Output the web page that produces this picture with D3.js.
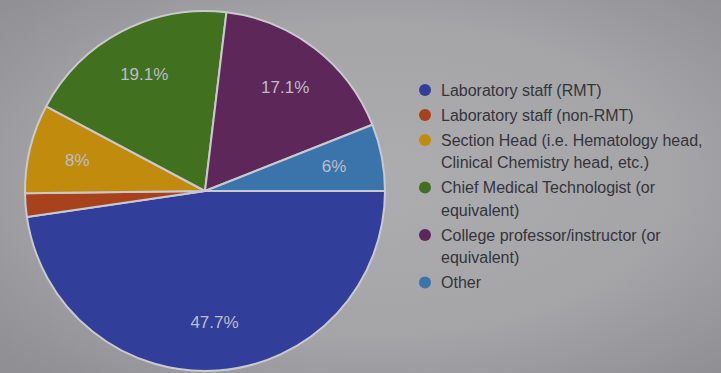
<!DOCTYPE html>
<html>
<head>
<meta charset="utf-8">
<script src="https://cdn.jsdelivr.net/npm/d3@7/dist/d3.min.js"></script>
<style>
  html, body { margin: 0; padding: 0; background: #a0a0a3; }
  svg { display: block; }
</style>
</head>
<body>
<svg id="chart" width="721" height="373"></svg>
<script>
// Survey responses: current position of respondents
const categories = [
  "Laboratory staff (RMT)",
  "Laboratory staff (non-RMT)",
  "Section Head (i.e. Hematology head, Clinical Chemistry head, etc.)",
  "Chief Medical Technologist (or equivalent)",
  "College professor/instructor (or equivalent)",
  "Other"
];
const legendLines = [
  ["Laboratory staff (RMT)"],
  ["Laboratory staff (non-RMT)"],
  ["Section Head (i.e. Hematology head,", "Clinical Chemistry head, etc.)"],
  ["Chief Medical Technologist (or", "equivalent)"],
  ["College professor/instructor (or", "equivalent)"],
  ["Other"]
];
const shares = [47.7, 2.1, 8, 19.1, 17.1, 6];
const sliceLabels = ["47.7%", "", "8%", "19.1%", "17.1%", "6%"];
const colors = ["#313f9a", "#a8421c", "#c18c0e", "#41711f", "#5e2759", "#3b74ab"];

const W = 721, H = 373;
const svg = d3.select("#chart");

// backdrop with darker edges
const defs = svg.append("defs");
const grad = defs.append("radialGradient").attr("id", "bg")
  .attr("cx", "52%").attr("cy", "48%").attr("r", "70%");
grad.append("stop").attr("offset", "0%").attr("stop-color", "#adadb0");
grad.append("stop").attr("offset", "60%").attr("stop-color", "#a5a5a8");
grad.append("stop").attr("offset", "100%").attr("stop-color", "#8f8f94");
svg.append("rect").attr("width", W).attr("height", H).attr("fill", "url(#bg)");

const cx = 205, cy = 191, R = 180;

const pie = d3.pie().sort(null).value(d => d)
  .startAngle(Math.PI / 2).endAngle(Math.PI / 2 + 2 * Math.PI);
const arcs = pie(shares);
const arc = d3.arc().innerRadius(0).outerRadius(R);
const labelArc = d3.arc().innerRadius(R * 0.73).outerRadius(R * 0.73);

const g = svg.append("g").attr("transform", `translate(${cx},${cy})`);

g.selectAll("path.slice").data(arcs).join("path")
  .attr("class", "slice")
  .attr("d", arc)
  .attr("fill", (d, i) => colors[i])
  .attr("stroke", "#c9c9cf")
  .attr("stroke-width", 2)
  .attr("stroke-linejoin", "round");

g.selectAll("text.pct").data(arcs).join("text")
  .attr("class", "pct")
  .attr("transform", d => `translate(${labelArc.centroid(d)})`)
  .attr("text-anchor", "middle")
  .attr("dy", "0.35em")
  .attr("font-family", "Liberation Sans, Arial, sans-serif")
  .attr("font-size", 17)
  .attr("fill", "#bdbdca")
  .text((d, i) => sliceLabels[i]);

// legend
const legend = svg.append("g").attr("transform", "translate(425,90)");
const lineH = 22.5, itemGap = 25;
let y = 0;
legendLines.forEach((lines, i) => {
  const item = legend.append("g").attr("transform", `translate(0,${y})`);
  item.append("circle").attr("r", 6).attr("fill", colors[i]);
  lines.forEach((t, j) => {
    item.append("text")
      .attr("x", 16).attr("y", j * lineH)
      .attr("dy", "0.35em")
      .attr("font-family", "Liberation Sans, Arial, sans-serif")
      .attr("font-size", 16)
      .attr("fill", "#34343a")
      .text(t);
  });
  y += (lines.length - 1) * lineH + itemGap;
});
</script>
</body>
</html>
